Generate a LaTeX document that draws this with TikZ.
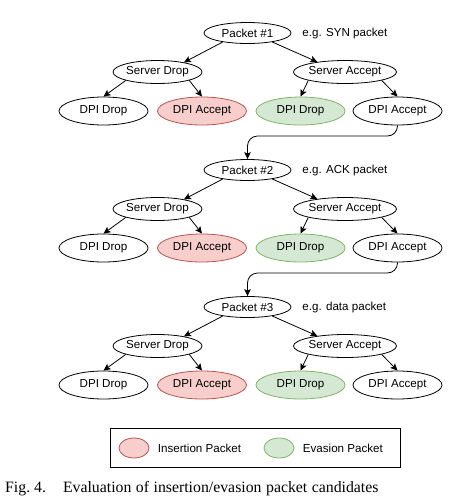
\documentclass[tikz,border=0pt]{standalone}
\usepackage{fontspec}
\setmainfont{Liberation Serif}
\setsansfont{Liberation Sans}
\usetikzlibrary{shapes.geometric,positioning,arrows.meta}
\definecolor{insfill}{HTML}{F8CECC}
\definecolor{insline}{HTML}{B85450}
\definecolor{evafill}{HTML}{D5E8D4}
\definecolor{evaline}{HTML}{82B366}

\begin{document}
\begin{tikzpicture}[x=1pt,y=-1pt,
	every node/.style={font=\sffamily\fontsize{11.6}{14}\selectfont},
	oval/.style={ellipse,draw,line width=0.8pt,inner sep=0pt,minimum width=89pt},
	pkt/.style={oval,minimum width=87pt,minimum height=21pt},
	srv/.style={oval,minimum height=23pt},
	dpi/.style={oval,minimum height=28pt},
	key/.style={ellipse,draw,line width=0.8pt,minimum width=30pt,minimum height=20pt},
	ins/.style={fill=insfill,draw=insline},
	eva/.style={fill=evafill,draw=evaline},
	arr/.style={-{Stealth[length=7pt,width=6.5pt,inset=1.5pt]},line width=0.8pt}]
	
	\useasboundingbox (0,0) rectangle (459,499);
	
	% tree 1
	\node[pkt] (P1) at (247.5,33) {Packet \#1};
	\node[right=7.5pt of P1] (E1) {e.g. SYN packet};
	\node[srv] (SD1) at (157.5,72) {Server Drop};
	\node[srv] (SA1) at (345,72) {Server Accept};
	\node[dpi] (DD1) at (103.5,111) {DPI Drop};
	\node[dpi,ins] (DA1) at (202,111) {DPI Accept};
	\node[dpi,eva] (RD1) at (300.5,111) {DPI Drop};
	\node[dpi] (RA1) at (397.5,111) {DPI Accept};
	
	\draw[arr] (P1.200) -- (SD1.20);
	\draw[arr] (P1.-20) -- (SA1.160);
	\draw[arr] (SD1.south west) -- (DD1.north);
	\draw[arr] (SD1.south east) -- (DA1.north);
	\draw[arr] (SA1.south west) -- (RD1.north);
	\draw[arr] (SA1.south east) -- (RA1.north);
	
	% tree 2
	\node[pkt] (P2) at (247.5,170) {Packet \#2};
	\node[right=7.5pt of P2] (E2) {e.g. ACK packet};
	\node[srv] (SD2) at (157.5,209) {Server Drop};
	\node[srv] (SA2) at (345,209) {Server Accept};
	\node[dpi] (DD2) at (103.5,248) {DPI Drop};
	\node[dpi,ins] (DA2) at (202,248) {DPI Accept};
	\node[dpi,eva] (RD2) at (300.5,248) {DPI Drop};
	\node[dpi] (RA2) at (397.5,248) {DPI Accept};
	
	\draw[arr] (P2.200) -- (SD2.20);
	\draw[arr] (P2.-20) -- (SA2.160);
	\draw[arr] (SD2.south west) -- (DD2.north);
	\draw[arr] (SD2.south east) -- (DA2.north);
	\draw[arr] (SA2.south west) -- (RD2.north);
	\draw[arr] (SA2.south east) -- (RA2.north);
	
	% tree 3
	\node[pkt] (P3) at (247.5,307) {Packet \#3};
	\node[right=7.5pt of P3] (E3) {e.g. data packet};
	\node[srv] (SD3) at (157.5,346) {Server Drop};
	\node[srv] (SA3) at (345,346) {Server Accept};
	\node[dpi] (DD3) at (103.5,385) {DPI Drop};
	\node[dpi,ins] (DA3) at (202,385) {DPI Accept};
	\node[dpi,eva] (RD3) at (300.5,385) {DPI Drop};
	\node[dpi] (RA3) at (397.5,385) {DPI Accept};
	
	\draw[arr] (P3.200) -- (SD3.20);
	\draw[arr] (P3.-20) -- (SA3.160);
	\draw[arr] (SD3.south west) -- (DD3.north);
	\draw[arr] (SD3.south east) -- (DA3.north);
	\draw[arr] (SA3.south west) -- (RD3.north);
	\draw[arr] (SA3.south east) -- (RA3.north);
	
	% links between the trees
	\coordinate (M1) at (322,136);
	\coordinate (M2) at (322,273);
	\draw[arr,rounded corners=10pt] (RA1.south) |- (M1) -| (P2.north);
	\draw[arr,rounded corners=10pt] (RA2.south) |- (M2) -| (P3.north);
	
	% legend
	\node[draw,line width=0.8pt,minimum width=290pt,minimum height=39pt] (LG) at (255,447.5) {};
	\node[key,ins] (KI) at (134,448) {};
	\node[right=5pt of KI] (TI) {Insertion Packet};
	\node[key,eva] (KE) at (279,448) {};
	\node[right=5pt of KE] (TE) {Evasion Packet};
	
	\node[anchor=base west,inner sep=0pt,font=\rmfamily\fontsize{15.8}{18}\selectfont] (CAP) at (5,492)
	{Fig.\ 4.\hspace{17pt}\spaceskip=4.5pt Evaluation of insertion/evasion packet candidates};
	
\end{tikzpicture}
\end{document}
